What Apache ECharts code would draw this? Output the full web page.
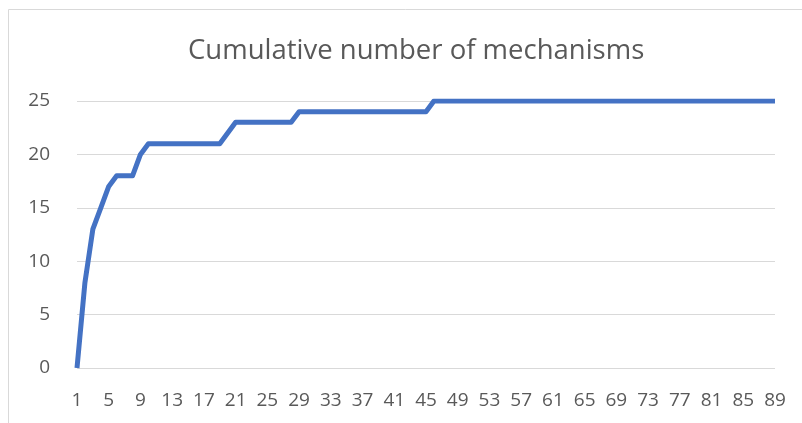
<!DOCTYPE html>
<html>
<head>
<meta charset="utf-8">
<title>Cumulative number of mechanisms</title>
<script src="https://cdn.jsdelivr.net/npm/echarts@6/dist/echarts.min.js"></script>
<style>
	html, body { margin: 0; padding: 0; background: #fff; }
	#chart { width: 802px; height: 423px; }
</style>
</head>
<body>
<div id="chart"></div>
<script>
// x axis: publication / study index 1..89
var categories = [];
for (var i = 1; i <= 89; i++) categories.push(String(i));

// cumulative count (first 46 points, then flat at 25)
var firstValues = [0, 8, 13, 15, 17, 18, 18, 18, 20, 21,
	21, 21, 21, 21, 21, 21, 21, 21, 21, 22,
	23, 23, 23, 23, 23, 23, 23, 23, 24, 24,
	24, 24, 24, 24, 24, 24, 24, 24, 24, 24,
	24, 24, 24, 24, 24, 25];
var cumulative = firstValues.slice();
while (cumulative.length < categories.length) cumulative.push(25);

var yTicks = [0, 5, 10, 15, 20, 25];

var chart = echarts.init(document.getElementById('chart'));
var option = {
	animation: false,
	textStyle: { fontFamily: 'Open Sans' },
	title: {
		text: 'Cumulative number of mechanisms',
		left: 183,
		top: 32,
		textStyle: { color: '#595959', fontSize: 27.5, fontWeight: 'normal', fontFamily: 'Open Sans' }
	},
	graphic: [{
		type: 'rect',
		shape: { x: 8.5, y: 9.5, width: 800, height: 420 },
		style: { fill: 'none', stroke: '#d9d9d9', lineWidth: 1 },
		silent: true
	}],
	grid: { left: 77, right: 27, top: 101, bottom: 55 },
	xAxis: {
		type: 'category',
		data: categories,
		boundaryGap: false,
		axisLine: { show: false },
		axisTick: { show: false },
		axisLabel: { interval: 3, color: '#595959', fontSize: 19, margin: 23 }
	},
	yAxis: {
		type: 'value',
		min: yTicks[0],
		max: yTicks[yTicks.length - 1],
		interval: 5,
		axisLine: { show: false },
		axisTick: { show: false },
		axisLabel: { color: '#595959', fontSize: 19, margin: 27 },
		splitLine: { lineStyle: { color: '#d9d9d9', width: 1 } }
	},
	series: [{
		type: 'line',
		data: cumulative,
		showSymbol: false,
		lineStyle: { color: '#4472C4', width: 5, join: 'round' },
		itemStyle: { color: '#4472C4' }
	}]
};
chart.setOption(option);
</script>
</body>
</html>
